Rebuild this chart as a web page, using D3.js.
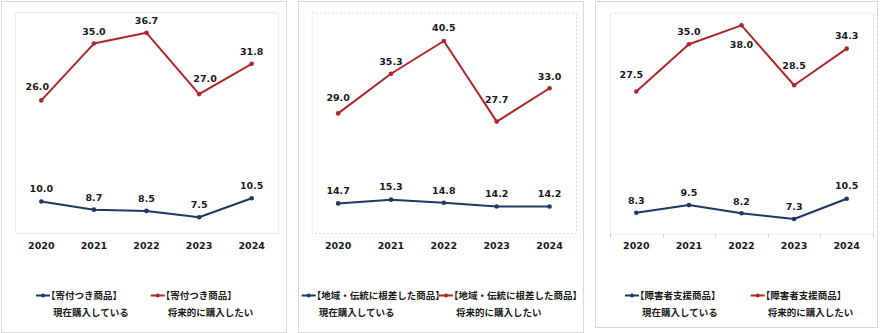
<!DOCTYPE html>
<html>
<head>
<meta charset="utf-8">
<script src="https://cdn.jsdelivr.net/npm/d3@7"></script>
<style>
  html, body { margin: 0; padding: 0; background: #fff; }
  svg { display: block; }
  .val, .year { font-family: "DejaVu Sans", sans-serif; font-weight: bold; font-size: 9.5px; fill: #1a1a1a; }
  .leg { font-family: "Noto Sans CJK JP", sans-serif; font-weight: bold; font-size: 9.5px; fill: #1a1a1a; }
</style>
</head>
<body>
<svg id="chart" width="881" height="333"></svg>
<script>
// Survey years
const years = ["2020", "2021", "2022", "2023", "2024"];

// Product categories, one panel each
const categories = ["寄付つき商品", "地域・伝統に根差した商品", "障害者支援商品"];

// Series labels
const seriesNames = ["現在購入している", "将来的に購入したい"];

// Share of respondents (%)
const donationNow     = [10.0, 8.7, 8.5, 7.5, 10.5];
const donationFuture  = [26.0, 35.0, 36.7, 27.0, 31.8];
const localNow        = [14.7, 15.3, 14.8, 14.2, 14.2];
const localFuture     = [29.0, 35.3, 40.5, 27.7, 33.0];
const disabilityNow    = [8.3, 9.5, 8.2, 7.3, 10.5];
const disabilityFuture = [27.5, 35.0, 38.0, 28.5, 34.3];

// Value axis range of each panel
const yDomains = [[5, 40], [10, 45], [5, 40]];

const colors = { now: "#1f3864", future: "#b0262b" };

// Panel frames and plot areas
const layout = [
  { frame: [1, 1, 286, 332], plot: [15, 12, 278, 233], legend: [36, 150.7], axisTicks: false },
  { frame: [298, 1, 583, 332], plot: [311.7, 12.7, 576, 233], legend: [301.7, 439], axisTicks: false },
  { frame: [595, 1, 877, 327], plot: [610, 12.7, 873, 233.5], legend: [625, 750.7], axisTicks: true }
];

// Label offsets from each point [dx, dy of text centre]
const labelOffsets = [
  { now: [[0,-12.5],[0,-12.5],[0,-12],[0,-12.5],[0,-12.8]],
    future: [[-4,-14],[0,-12],[0,-12],[6,-16],[0,-12]] },
  { now: [[0,-13],[0,-12.7],[0,-12],[0,-12.7],[0,-12.7]],
    future: [[0,-15.6],[0,-12.5],[0,-13.4],[0,-21.7],[0,-12]] },
  { now: [[0,-12.3],[0,-12.7],[0,-12.3],[0,-12.6],[0,-13]],
    future: [[-5,-17],[0,-12.3],[0,19.3],[0,-20],[0,-12.7]] }
];

const panelSeries = [
  { now: donationNow, future: donationFuture },
  { now: localNow, future: localFuture },
  { now: disabilityNow, future: disabilityFuture }
];

const svg = d3.select("#chart");

categories.forEach((cat, i) => {
  const L = layout[i];
  const [fx0, fy0, fx1, fy1] = L.frame;
  const [px0, py0, px1, py1] = L.plot;
  const g = svg.append("g");

  // outer frame
  g.append("rect")
    .attr("x", fx0 + 0.5).attr("y", fy0 + 0.5)
    .attr("width", fx1 - fx0).attr("height", fy1 - fy0)
    .attr("fill", "#fff").attr("stroke", "#d9d9d9").attr("stroke-width", 1);

  // dashed plot area
  g.append("rect")
    .attr("x", px0 + 0.5).attr("y", py0 + 0.5)
    .attr("width", px1 - px0).attr("height", py1 - py0)
    .attr("fill", "none").attr("stroke", "#dcdcdc")
    .attr("stroke-dasharray", "2,2").attr("stroke-width", 1);

  const x = d3.scalePoint().domain(years).range([px0, px1]).padding(0.5);
  const y = d3.scaleLinear().domain(yDomains[i]).range([py1, py0]);

  if (L.axisTicks) {
    const band = d3.scaleBand().domain(years).range([px0, px1]);
    const edges = years.map(d => band(d)).concat([px1]);
    g.selectAll(".tk").data(edges).join("line")
      .attr("x1", d => Math.round(d) + 0.5).attr("x2", d => Math.round(d) + 0.5)
      .attr("y1", py1).attr("y2", py1 + 4)
      .attr("stroke", "#d0d0d0").attr("stroke-width", 1);
  }

  // year labels
  g.selectAll(".year").data(years).join("text")
    .attr("class", "year")
    .attr("x", d => x(d)).attr("y", 248.5)
    .attr("text-anchor", "middle")
    .text(d => d);

  const line = d3.line().x((d, j) => x(years[j])).y(d => y(d));

  ["future", "now"].forEach(key => {
    const vals = panelSeries[i][key];
    const c = colors[key];
    g.append("path").datum(vals)
      .attr("d", line)
      .attr("fill", "none").attr("stroke", c)
      .attr("stroke-width", 2).attr("stroke-linejoin", "round");
    g.selectAll(".pt-" + key).data(vals).join("circle")
      .attr("cx", (d, j) => x(years[j])).attr("cy", d => y(d))
      .attr("r", 2.3).attr("fill", c);
    g.selectAll(".lb-" + key).data(vals).join("text")
      .attr("class", "val")
      .attr("text-anchor", "middle")
      .attr("x", (d, j) => x(years[j]) + labelOffsets[i][key][j][0])
      .attr("y", (d, j) => y(d) + labelOffsets[i][key][j][1] + 3.5)
      .text(d => d.toFixed(1));
  });

  // legend
  ["now", "future"].forEach((key, k) => {
    const lx = L.legend[k];
    const ly = 295.5;
    const c = colors[key];
    g.append("line")
      .attr("x1", lx).attr("x2", lx + 14)
      .attr("y1", ly).attr("y2", ly)
      .attr("stroke", c).attr("stroke-width", 2);
    g.append("circle").attr("cx", lx + 7).attr("cy", ly).attr("r", 2).attr("fill", c);
    g.append("text").attr("class", "leg")
      .attr("x", lx + 10).attr("y", ly + 3.5)
      .text("【" + cat + "】");
    g.append("text").attr("class", "leg")
      .attr("x", lx + 17).attr("y", ly + 20)
      .text(seriesNames[k]);
  });
});
</script>
</body>
</html>
